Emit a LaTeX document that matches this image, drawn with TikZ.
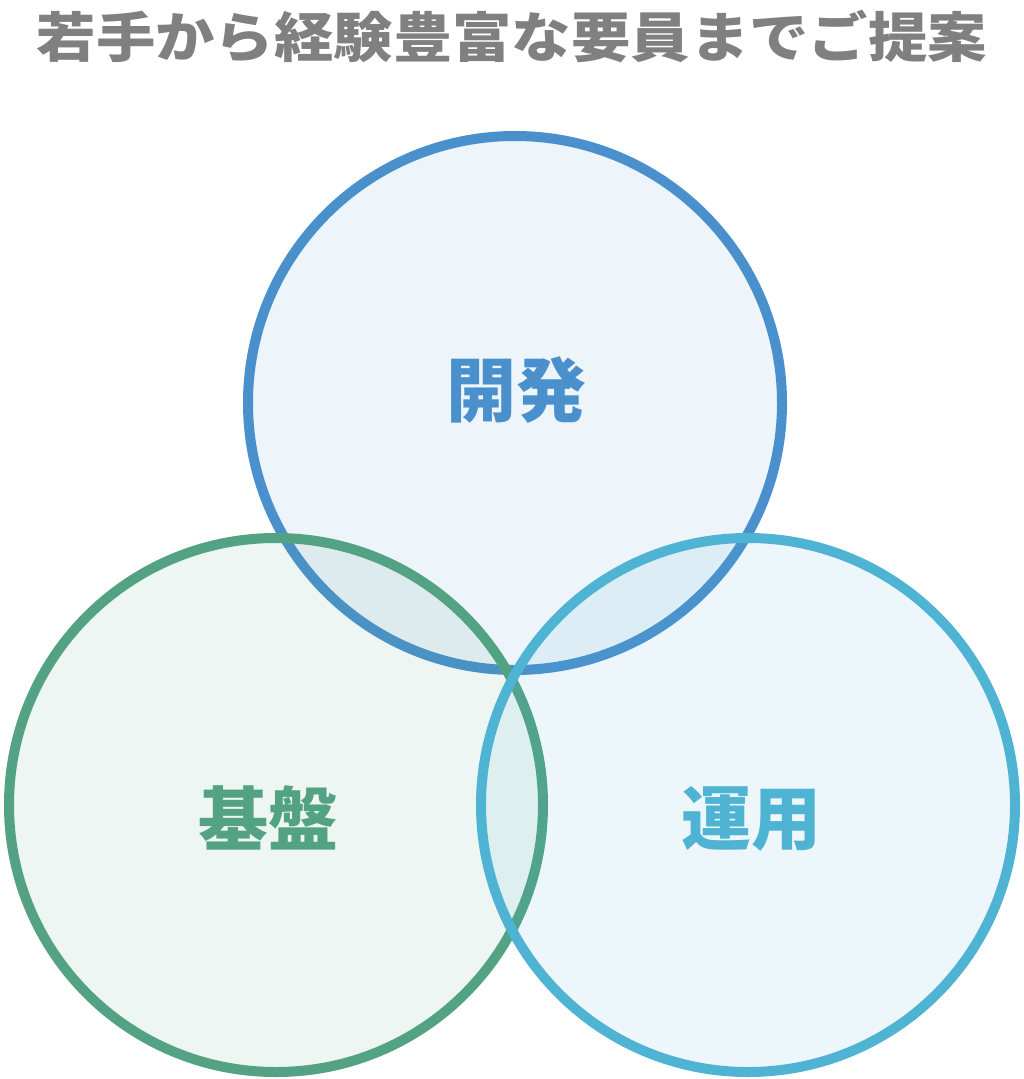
\documentclass[tikz,border=0pt]{standalone}
\usepackage{fontspec}
\newfontfamily\cjk{Noto Sans CJK JP}
\definecolor{cblue}{RGB}{74,144,204}
\definecolor{cgreen}{RGB}{82,162,131}
\definecolor{ccyan}{RGB}{79,179,212}
\definecolor{ctitle}{RGB}{128,128,128}
\tikzset{
  ring/.style={circle, draw=#1, fill=#1, fill opacity=0.1, draw opacity=1, line width=10bp, minimum size=534bp, inner sep=0pt},
  lbl/.style={text=#1, font=\cjk\bfseries\fontsize{70bp}{84bp}\selectfont, inner sep=0pt},
}
\begin{document}
\begin{tikzpicture}[x=1bp, y=-1bp]
\useasboundingbox (0,0) rectangle (1024,1079);
\node[ring=cblue] (dev) at (515,403) {};
\node[ring=cgreen] (infra) at (276,805) {};
\node[ring=ccyan] (ops) at (748,805) {};
\node[lbl=cblue] (devl) at (516,390) {開発};
\node[lbl=cgreen] (infral) at (268,818) {基盤};
\node[lbl=ccyan] (opsl) at (751,819) {運用};
\node[text=ctitle, inner sep=0pt, xscale=1.1, font=\cjk\bfseries\fontsize{54bp}{60bp}\selectfont] (title) at (512,36) {若手から経験豊富な要員までご提案};
\end{tikzpicture}
\end{document}
